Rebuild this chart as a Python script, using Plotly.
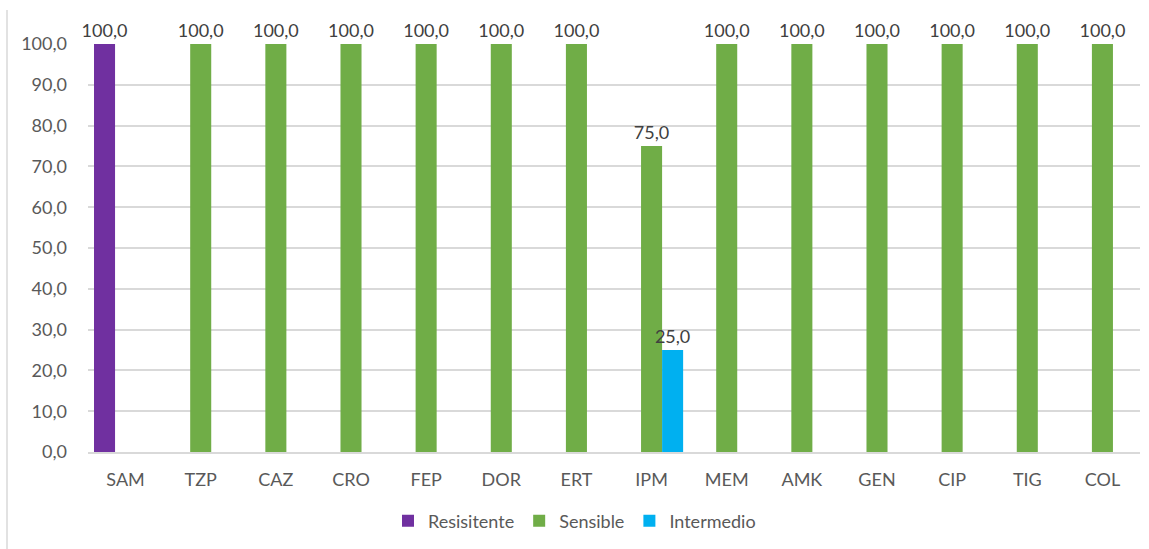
import plotly.graph_objects as go

categories = ["SAM", "TZP", "CAZ", "CRO", "FEP", "DOR", "ERT", "IPM",
              "MEM", "AMK", "GEN", "CIP", "TIG", "COL"]
resistente = [100.0, None, None, None, None, None, None, None,
              None, None, None, None, None, None]
sensible = [None, 100.0, 100.0, 100.0, 100.0, 100.0, 100.0, 75.0,
            100.0, 100.0, 100.0, 100.0, 100.0, 100.0]
intermedio = [None, None, None, None, None, None, None, 25.0,
              None, None, None, None, None, None]

FONT = "Lato"
TXT = "#595959"
FS = 18

series = [
    ("Resisitente", resistente, "#7030A0"),
    ("Sensible", sensible, "#70AD47"),
    ("Intermedio", intermedio, "#00B0F0"),
]

fig = go.Figure()
for name, vals, color in series:
    fig.add_trace(go.Bar(
        x=categories, y=vals, name=name,
        marker=dict(color=color, line=dict(width=0)),
        texttemplate="%{y:.1f}", textposition="outside",
        constraintext="none",
        textfont=dict(family=FONT, size=FS, color="#404040"),
        cliponaxis=False,
    ))

fig.update_layout(
    width=1149, height=549,
    margin=dict(l=88, r=9, t=44, b=97, autoexpand=False),
    paper_bgcolor="white", plot_bgcolor="white",
    separators=",.",
    barmode="group", bargap=0.16, bargroupgap=0,
    font=dict(family=FONT, size=FS, color=TXT),
    legend=dict(orientation="h", x=0.5, xanchor="center", xref="container",
                y=1 - 521 / 549, yanchor="middle", yref="container",
                font=dict(family=FONT, size=FS, color=TXT),
                itemwidth=30, traceorder="normal"),
    xaxis=dict(showline=True, linecolor="#d9d9d9", linewidth=2,
               ticks="", showgrid=False, ticklabelstandoff=10,
               tickfont=dict(family=FONT, size=FS, color=TXT)),
    yaxis=dict(range=[0, 100], dtick=10, tickformat=".1f",
               showgrid=True, gridcolor="#d9d9d9", gridwidth=1.5,
               zeroline=False, showline=False, ticks="",
               ticklabelstandoff=20,
               tickfont=dict(family=FONT, size=FS, color=TXT)),
    shapes=[dict(type="line", xref="paper", yref="paper",
                 x0=-81 / 1052, x1=-81 / 1052, y0=(452 - 10) / 408,
                 y1=(452 - 549) / 408,
                 line=dict(color="#d9d9d9", width=1.5))],
)

fig.write_html("out.html")
